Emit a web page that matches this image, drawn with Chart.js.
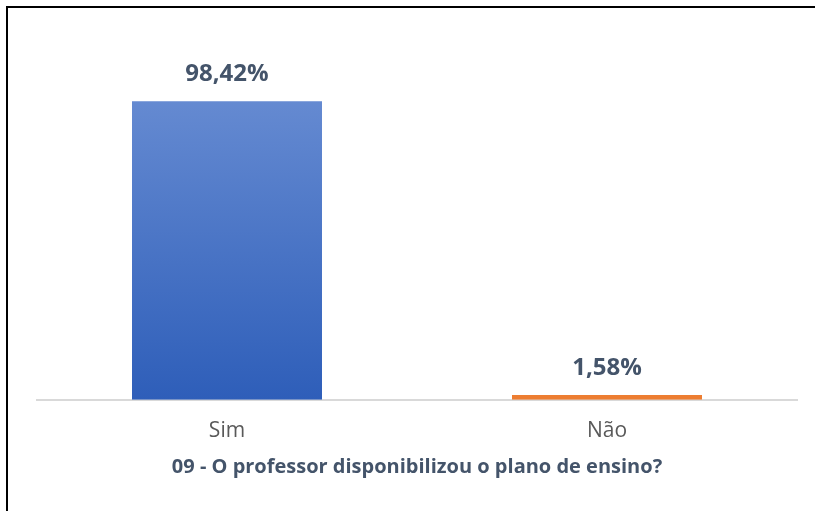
<!DOCTYPE html>
<html>
<head>
<meta charset="utf-8">
<script src="https://cdn.jsdelivr.net/npm/chart.js@4"></script>
<style>
	html, body { margin: 0; padding: 0; background: #fff; overflow: hidden; }
	#wrap { position: relative; width: 815px; height: 511px; }
	#frame { position: absolute; left: 6px; top: 6px; width: 900px; height: 600px; border: 2px solid #000; box-sizing: border-box; pointer-events: none; }
</style>
</head>
<body>
<div id="wrap">
	<canvas id="chart" width="815" height="511"></canvas>
	<div id="frame"></div>
</div>
<script>
const categories = ['Sim', 'Não'];
const values = [98.42, 1.58];
const valueLabels = ['98,42%', '1,58%'];
const axisTitle = '09 - O professor disponibilizou o plano de ensino?';

const ctx = document.getElementById('chart');
const fontFamily = '"Open Sans", Lato, sans-serif';

// gradiente da barra azul
function simFill(context) {
	const area = context.chart.chartArea;
	if (!area) return '#4472c4';
	if (context.dataIndex !== 0) return '#ed7d31';
	const g = context.chart.ctx.createLinearGradient(0, area.top, 0, area.bottom);
	g.addColorStop(0, '#6b8fd4');
	g.addColorStop(1, '#2e5eb9');
	return g;
}

const valueLabelPlugin = {
	id: 'valueLabels',
	afterDatasetsDraw(chart) {
		const c = chart.ctx;
		const meta = chart.getDatasetMeta(0);
		c.save();
		c.font = 'bold 24px ' + fontFamily;
		c.fillStyle = '#44546a';
		c.textAlign = 'center';
		c.textBaseline = 'middle';
		meta.data.forEach((bar, i) => {
			c.fillText(valueLabels[i], bar.x, bar.y - 27);
		});
		c.restore();
	}
};

new Chart(ctx, {
	type: 'bar',
	data: {
		labels: categories,
		datasets: [{
			data: values,
			backgroundColor: simFill,
			borderWidth: 0,
			categoryPercentage: 1,
			barPercentage: 0.5
		}]
	},
	options: {
		responsive: false,
		animation: false,
		layout: { padding: { left: 37, right: 18, top: 66, bottom: 32 } },
		plugins: { legend: { display: false }, tooltip: { enabled: false } },
		scales: {
			y: { display: false, min: 0, max: 110 },
			x: {
				grid: { display: false },
				border: { color: '#d9d9d9', width: 2 },
				ticks: {
					color: '#595959',
					padding: 11,
					font: { family: fontFamily, size: 21 }
				},
				title: {
					display: true,
					text: axisTitle,
					color: '#44546a',
					padding: { top: 0, bottom: 0 },
					font: { family: fontFamily, size: 20, weight: 'bold' }
				}
			}
		}
	},
	plugins: [valueLabelPlugin]
});
</script>
</body>
</html>
